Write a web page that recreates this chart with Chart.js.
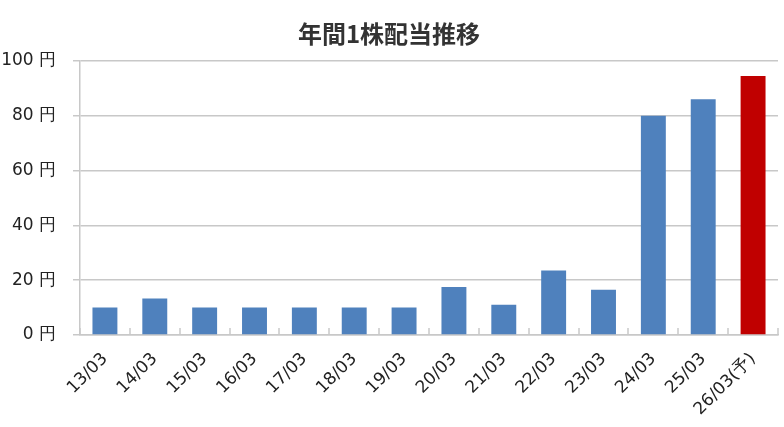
<!DOCTYPE html>
<html>
<head>
<meta charset="utf-8">
<script src="https://cdn.jsdelivr.net/npm/chart.js@4"></script>
<style>
  html, body { margin: 0; padding: 0; background: #fff; }
  #wrap { width: 784px; height: 427px; }
</style>
</head>
<body>
<div id="wrap"><canvas id="divChart"></canvas></div>
<script>
const years = ['13/03', '14/03', '15/03', '16/03', '17/03', '18/03', '19/03',
               '20/03', '21/03', '22/03', '23/03', '24/03', '25/03', '26/03(予)'];
const dividends = [10, 13.3, 10, 10, 10, 10, 10, 17.5, 11, 23.5, 16.5, 80, 86, 94.5];
const barColors = ['#4F81BD', '#4F81BD', '#4F81BD', '#4F81BD', '#4F81BD', '#4F81BD', '#4F81BD',
                   '#4F81BD', '#4F81BD', '#4F81BD', '#4F81BD', '#4F81BD', '#4F81BD', '#C00000'];
const yTicks = [0, 20, 40, 60, 80, 100];

// small tick marks between categories, drawn upward like the original
const innerTicks = {
    id: 'innerTicks',
    afterDatasetsDraw(chart) {
        const x = chart.scales.x, y = chart.scales.y;
        const c = chart.ctx;
        const step = x.getPixelForValue(1) - x.getPixelForValue(0);
        c.save();
        c.strokeStyle = '#c8c8c8';
        c.lineWidth = 1.5;
        for (let i = 0; i <= years.length; i++) {
            const px = Math.round(x.getPixelForValue(i) - step / 2);
            c.beginPath();
            c.moveTo(px, y.bottom);
            c.lineTo(px, y.bottom - 7);
            c.stroke();
        }
        c.restore();
    }
};

const ctx = document.getElementById('divChart').getContext('2d');
const divChart = new Chart(ctx, {
    type: 'bar',
    data: {
        labels: years,
        datasets: [{
            label: '年間1株配当',
            data: dividends,
            backgroundColor: barColors,
            barPercentage: 0.5,
            categoryPercentage: 1.0
        }]
    },
    options: {
        responsive: true,
        maintainAspectRatio: false,
        animation: false,
        layout: { padding: { top: 19, right: 6, left: 0, bottom: 0 } },
        scales: {
            y: {
                min: 0,
                max: 100,
                afterBuildTicks: function(axis) {
                    axis.ticks = yTicks.map(v => ({ value: v }));
                },
                afterFit: function(axis) { axis.width = 80; },
                ticks: {
                    color: '#222',
                    font: { family: 'DejaVu Sans', size: 17 },
                    padding: 17,
                    callback: function(value) {
                        return value + ' 円';
                    }
                },
                grid: { color: '#c8c8c8', tickLength: 7, lineWidth: 1.5 },
                border: { color: '#c8c8c8', width: 1.5 }
            },
            x: {
                afterFit: function(axis) { axis.height = 92; axis.paddingLeft = 0; },
                ticks: {
                    color: '#222',
                    font: { family: 'DejaVu Sans', size: 17 },
                    minRotation: 45,
                    maxRotation: 45,
                    autoSkip: false,
                    padding: 6
                },
                grid: { display: false },
                border: { color: '#c8c8c8', width: 1.5 }
            }
        },
        plugins: {
            legend: { display: false },
            tooltip: { enabled: false },
            title: {
                display: true,
                text: '年間1株配当推移',
                color: '#333',
                font: { family: 'Noto Sans CJK JP', size: 24, weight: 'bold' },
                padding: { top: 0, bottom: 13 }
            }
        }
    },
    plugins: [innerTicks]
});
</script>
</body>
</html>
